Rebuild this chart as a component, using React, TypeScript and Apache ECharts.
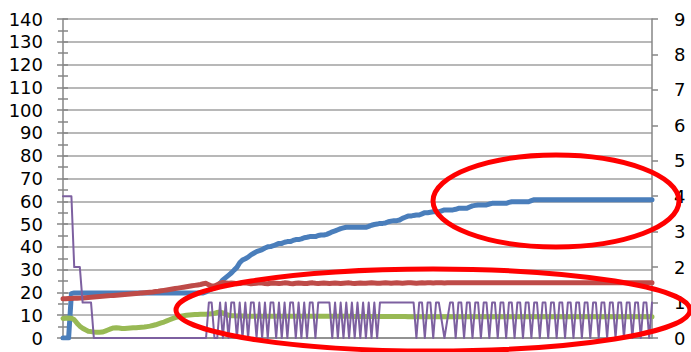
import React, { useEffect, useRef } from "react";
import * as echarts from "echarts";

// Series values (left axis: blue, red, green; right axis: purple)
const blue = [
  0, 0, 0, 19.5,
  19.8, 19.8, 19.8, 19.8, 19.8, 19.8, 19.8, 19.8, 19.8, 19.8,
  19.8, 19.8, 19.8, 19.8, 19.8, 19.8, 19.8, 19.8, 19.8, 19.8,
  19.8, 19.8, 19.8, 19.8, 19.8, 19.8, 19.8, 19.8, 19.8, 19.8,
  19.8, 19.8, 19.8, 19.8, 19.8, 19.8, 19.8, 19.8, 19.8, 19.8,
  19.8, 19.8, 19.8, 19.8, 19.8, 19.8, 19.8,
  20.2, 21, 21.5, 22, 22.5, 24, 25.5, 26.5, 27.5, 28.5, 29.8, 31, 33, 34.2, 34.8, 35.5, 36.5, 37.2,
  37.9, 38.3, 38.8, 39.5, 40, 40.1, 40.5, 41, 41.5, 41.5, 42, 42.3, 42.3, 42.8, 43.2, 43.2, 43.5,
  44, 44.2, 44.5, 44.5, 44.5, 45, 45.2, 45.2, 45.5, 46, 46.6, 47, 47.5, 48, 48.3, 48.6,
  48.6, 48.6, 48.6, 48.6, 48.6, 48.6, 48.6,
  49, 49.5, 49.8, 50, 50.3, 50.3, 50.5, 51, 51.3, 51.5, 51.5, 51.8, 52.5, 53, 53.5, 53.5,
  53.8, 54, 54, 54.5, 55, 55, 55.2, 55.4, 55.4, 55.4, 55.8, 56.2, 56.2, 56.2, 56.2, 56.5,
  56.9, 56.9, 56.9, 56.9, 57.5, 58, 58.2, 58.4, 58.4, 58.4, 58.4, 58.8, 59.1, 59.1, 59.1, 59.1,
  59.1, 59.1, 59.5, 59.8, 59.8, 59.8, 59.8, 59.8, 59.8, 59.8, 60.3, 60.7,
  60.7, 60.7, 60.7, 60.7, 60.7, 60.7, 60.7, 60.7, 60.7, 60.7,
  60.7, 60.7, 60.7, 60.7, 60.7, 60.7, 60.7, 60.7, 60.7, 60.7,
  60.7, 60.7, 60.7, 60.7, 60.7, 60.7, 60.7, 60.7, 60.7, 60.7,
  60.7, 60.7, 60.7, 60.7, 60.7, 60.7, 60.7, 60.7, 60.7, 60.7,
  60.7, 60.7,
];

const red = [
  17.2, 17.2, 17.3, 17.3, 17.4, 17.4, 17.5,
  17.6, 17.7, 17.8, 17.9, 18.0, 18.1, 18.2,
  18.3, 18.4, 18.5, 18.6, 18.7, 18.8, 18.9,
  19.0, 19.1, 19.2, 19.3, 19.4, 19.5, 19.6,
  19.8, 19.9, 20.0, 20.1, 20.2, 20.4, 20.5,
  20.7, 20.9, 21.1, 21.3, 21.5, 21.7, 21.9,
  22.1, 22.3, 22.5, 22.7, 22.9, 23.1, 23.3,
  23.5, 23.8, 24.0,
  23.3, 22.8, 22.8, 23.4, 24.0, 24.4, 24.2, 24.0,
  24.1, 24.0, 23.8, 23.9, 24.1, 24.2, 24.0, 23.8, 23.9, 24.0,
  24.2, 24.1, 23.9, 23.8, 24.0, 24.1, 24.0, 23.9, 24.0, 24.2,
  24.1, 23.9, 23.8, 24.0, 24.1, 24.0, 23.9, 23.9, 24.1, 24.2,
  24.0, 23.9, 24.0, 24.1, 24.0, 23.9, 24.0, 24.1, 24.0, 23.9,
  24.0, 24.1, 24.2, 24.0, 23.9, 24.0, 24.1, 24.0, 24.0, 24.1,
  24.2, 24.1, 24.0, 24.0, 24.1, 24.2, 24.1, 24.0, 24.1, 24.2,
  24.1, 24.0, 24.1, 24.2, 24.2, 24.1, 24.0, 24.1, 24.2, 24.1,
  24.2, 24.2, 24.1, 24.2, 24.3, 24.2, 24.1, 24.2, 24.2, 24.3,
  24.2, 24.2, 24.3, 24.2, 24.2, 24.3, 24.3, 24.2, 24.2, 24.3,
  24.3, 24.2, 24.3, 24.3, 24.2, 24.3, 24.3, 24.3, 24.2, 24.3,
  24.3, 24.3, 24.2, 24.3, 24.3, 24.3, 24.3, 24.2, 24.3, 24.3,
  24.3, 24.3, 24.3, 24.2, 24.3, 24.3, 24.3, 24.3, 24.3, 24.2,
  24.3, 24.3, 24.3, 24.3, 24.3, 24.3, 24.3, 24.2, 24.3, 24.3,
  24.3, 24.3, 24.3, 24.3, 24.3, 24.3, 24.3, 24.3, 24.3, 24.3,
  24.3, 24.3, 24.3, 24.3, 24.3, 24.3, 24.3, 24.3, 24.3, 24.3, 24.3,
];

const green = [
  8.6, 8.7, 8.8, 8.7, 8.0, 6.5, 5.2, 4.3, 3.6, 3.0,
  2.8, 2.6, 2.5, 2.5, 2.6, 3.0, 3.5, 4.0, 4.4, 4.5,
  4.4, 4.2, 4.2, 4.3, 4.4, 4.5, 4.5, 4.6, 4.7, 4.8,
  5.0, 5.2, 5.5, 5.8, 6.2, 6.6, 7.0, 7.5, 8.0, 8.5,
  8.9, 9.3, 9.6, 9.8, 10.0, 10.1, 10.2, 10.3, 10.3, 10.4,
  10.4, 10.4, 10.5, 10.6, 10.8, 11.2, 11.4, 11.0, 10.4, 10.0,
  9.8, 9.8, 9.7, 9.7, 9.7, 9.6, 9.6, 9.6, 9.6, 9.6,
  9.6, 9.6, 9.6, 9.6, 9.6, 9.6, 9.6, 9.6, 9.6, 9.6,
  9.6, 9.6, 9.5, 9.5, 9.5, 9.5, 9.5, 9.5, 9.5, 9.5,
  9.5, 9.5, 9.5, 9.5, 9.5, 9.5, 9.5, 9.5, 9.5, 9.5,
  9.5, 9.5, 9.5, 9.5, 9.4, 9.4, 9.4, 9.4, 9.4, 9.4,
  9.4, 9.4, 9.4, 9.4, 9.4, 9.4, 9.4, 9.4, 9.4, 9.4,
  9.4, 9.4, 9.4, 9.3, 9.3, 9.3, 9.3, 9.3, 9.3, 9.3,
  9.3, 9.3, 9.3, 9.3, 9.3, 9.3, 9.3, 9.3, 9.3, 9.3,
  9.3, 9.3, 9.3, 9.3, 9.3, 9.3, 9.3, 9.3, 9.3, 9.3,
  9.3, 9.3, 9.3, 9.3, 9.3, 9.3, 9.3, 9.3, 9.3, 9.3,
  9.3, 9.3, 9.3, 9.3, 9.3, 9.3, 9.3, 9.3, 9.3, 9.3,
  9.3, 9.3, 9.3, 9.3, 9.3, 9.3, 9.3, 9.3, 9.3, 9.3,
  9.3, 9.3, 9.3, 9.3, 9.3, 9.3, 9.3, 9.3, 9.3, 9.3,
  9.3, 9.3, 9.3, 9.3, 9.3, 9.3, 9.3, 9.3, 9.3, 9.3,
  9.3, 9.3, 9.3, 9.3, 9.3, 9.3, 9.3, 9.3, 9.3, 9.3,
  9.3,
];

const purple = [
  4, 4, 4, 4, 2, 2, 2, 1, 1, 1, 1,
  0, 0, 0, 0, 0, 0, 0, 0, 0, 0,
  0, 0, 0, 0, 0, 0, 0, 0, 0, 0,
  0, 0, 0, 0, 0, 0, 0, 0, 0, 0,
  0, 0, 0, 0, 0, 0, 0, 0, 0, 0, 0,
  1, 1, 0, 0,
  1, 0, 1, 0, 1, 1, 0, 1, 0, 1, 0, 1, 1, 0, 1, 0, 1, 0, 1, 1, 0,
  1, 0, 1, 0, 1, 1, 0, 1, 0, 1, 0, 1, 1, 0,
  1, 1, 1, 1, 1, 0, 1,
  0, 1, 0, 1, 0, 1, 0, 1, 0, 1, 0, 1, 0, 1, 0,
  1, 1, 1, 1, 1, 1, 1, 1, 1, 1, 1, 1, 1,
  0, 1, 1, 0, 1, 1, 0, 1, 1, 0.5, 0, 0.5, 1, 1, 0,
  1, 1, 0, 1, 1, 0, 1, 1, 0, 1, 1, 0, 1, 1, 0, 1, 1, 0, 1, 1, 0, 1, 1, 0,
  1, 1, 0, 1, 1, 0, 1, 1, 0, 1, 1, 0, 1, 1, 0, 1, 1, 0, 1, 1, 0, 1, 1, 0,
  1, 1, 0, 1, 1, 0, 1, 1, 0, 1, 1, 0, 1, 1, 0, 1, 1, 0, 1, 1, 0,
  1,
];

const categories = blue.map((_, i) => String(i + 1));

const leftAxisMax = 140;
const leftAxisStep = 10;
const rightAxisMax = 9;
const rightAxisStep = 1;

const FONT = "'DejaVu Sans', Verdana, sans-serif";
const GRID_COLOR = "#a0a0a0";
const AXIS_COLOR = "#868686";

export default function App() {
  const ref = useRef<HTMLDivElement>(null);

  useEffect(() => {
    if (!ref.current) return;
    const chart = echarts.init(ref.current, undefined, { renderer: "svg" });
    const lineSeries = (name: string, data: number[], color: string, width: number, yAxisIndex: number) => ({
      name,
      type: "line",
      data,
      yAxisIndex,
      showSymbol: false,
      symbol: "none",
      lineStyle: { color, width, join: "round", cap: "round" },
      itemStyle: { color },
      emphasis: { disabled: true },
    });
    chart.setOption({
      animation: false,
      backgroundColor: "#ffffff",
      grid: { left: 63, right: 39, top: 19, bottom: 14, containLabel: false },
      xAxis: {
        type: "category",
        data: categories,
        boundaryGap: false,
        axisLine: { show: true, lineStyle: { color: AXIS_COLOR, width: 1.5 } },
        axisTick: { show: false },
        axisLabel: { show: false },
        splitLine: { show: false },
      },
      yAxis: [
        {
          type: "value",
          position: "left",
          min: 0,
          max: leftAxisMax,
          interval: leftAxisStep,
          axisLine: { show: true, lineStyle: { color: AXIS_COLOR, width: 1.5 } },
          axisTick: { show: true, length: 6, lineStyle: { color: AXIS_COLOR, width: 1.5 } },
          minorTick: { show: true, splitNumber: 2, length: 5, lineStyle: { color: AXIS_COLOR, width: 1.5 } },
          axisLabel: { color: "#000", fontSize: 18, fontFamily: FONT, margin: 20 },
          splitLine: { show: true, lineStyle: { color: GRID_COLOR, width: 1.5 } },
        },
        {
          type: "value",
          position: "right",
          min: 0,
          max: rightAxisMax,
          interval: rightAxisStep,
          axisLine: { show: true, lineStyle: { color: AXIS_COLOR, width: 1.5 } },
          axisTick: { show: true, length: 6, lineStyle: { color: AXIS_COLOR, width: 1.5 } },
          axisLabel: { color: "#000", fontSize: 18, fontFamily: FONT, margin: 22 },
          splitLine: { show: false },
        },
        {
          type: "value",
          position: "left",
          min: 0,
          max: leftAxisMax,
          interval: leftAxisStep / 2,
          axisLine: { show: false },
          axisTick: { show: true, inside: true, length: 5, lineStyle: { color: AXIS_COLOR, width: 1.5 } },
          axisLabel: { show: false },
          splitLine: { show: false },
        },
      ],
      series: [
        lineSeries("Blue", blue, "#4a7ebb", 5, 0),
        lineSeries("Red", red, "#be4b48", 5, 0),
        lineSeries("Green", green, "#98b954", 5, 0),
        lineSeries("Purple", purple, "#7d60a0", 2, 1),
      ],
      graphic: [
        {
          type: "ellipse",
          z: 100,
          silent: true,
          shape: { cx: 556, cy: 201, rx: 123, ry: 46 },
          style: { fill: "none", stroke: "#ff0000", lineWidth: 5 },
        },
        {
          type: "ellipse",
          z: 100,
          silent: true,
          shape: { cx: 433, cy: 310, rx: 257, ry: 41 },
          style: { fill: "none", stroke: "#ff0000", lineWidth: 5 },
        },
      ],
    });
    return () => chart.dispose();
  }, []);

  return (
    <div
      ref={ref}
      style={{ position: "absolute", left: 0, top: 0, width: 691, height: 352, background: "#fff" }}
    />
  );
}
